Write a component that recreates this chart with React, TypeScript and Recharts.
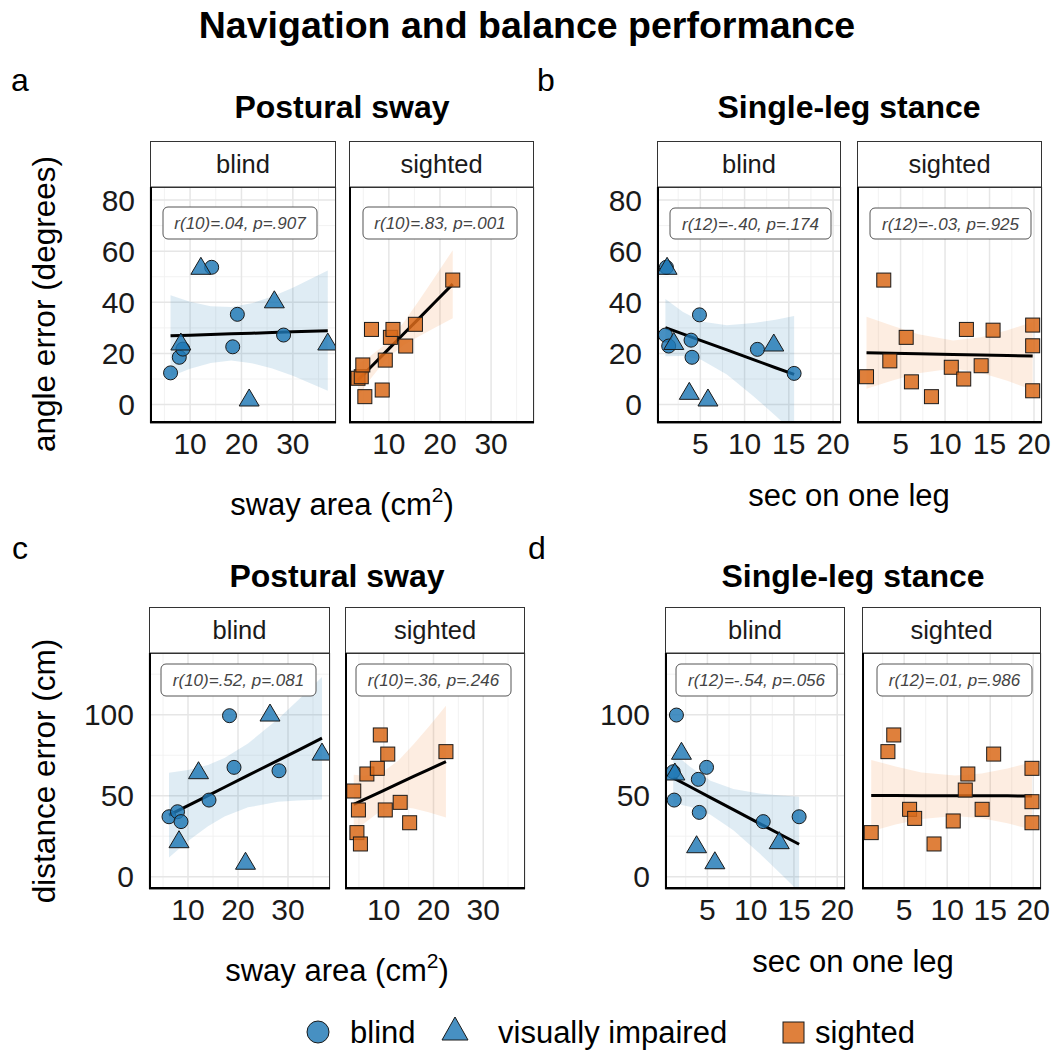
import React from "react";
import {
  Area,
  CartesianGrid,
  ComposedChart,
  Line,
  Scatter,
  XAxis,
  YAxis,
} from "recharts";

const FONT = '"Liberation Sans", Arial, Helvetica, sans-serif';
const BLUE = "#1F77B4";
const ORANGE = "#D96A1A";
const BAND_BLUE = "#1F77B4";
const BAND_ORANGE = "#F07D2A";

// sway area (cm2) per participant
const blindSwayX = [6.2, 7.9, 8.6, 14.2, 18.3, 19.2, 28.2];
const blindSwayAngle = [12.4, 18.5, 21.7, 53.7, 22.6, 35.3, 27.2];
const blindSwayDist = [37.0, 40.1, 34.0, 47.3, 99.4, 67.5, 65.4];
const viSwayX = [8.2, 12.1, 21.5, 26.4, 36.8];
const viSwayAngle = [23.7, 53.3, 1.8, 40.2, 23.7];
const viSwayDist = [21.6, 64.2, 8.3, 99.8, 75.7];
const sightedSwayX = [3.96, 4.6, 4.9, 5.3, 6.6, 8.7, 9.3, 10.3, 10.8, 13.3, 15.2, 22.5];
const sightedSwayAngle = [10.3, 10.9, 15.5, 3.1, 29.4, 5.7, 17.4, 26.3, 29.4, 22.9, 31.4, 48.7];
const sightedSwayDist = [52.9, 27.2, 41.2, 20.2, 63.4, 66.9, 87.5, 41.2, 75.7, 45.9, 33.3, 77.2];

// seconds on one leg per participant
const blindLegX = [1.05, 1.16, 1.42, 3.95, 4.06, 4.9, 11.45, 15.6];
const blindLegAngle = [27.2, 53.7, 22.9, 25.2, 18.5, 35.1, 21.6, 12.2];
const blindLegDist = [64.8, 47.3, 99.8, 60.1, 39.7, 67.5, 34.0, 37.0];
const viLegX = [1.24, 2.0, 3.75, 5.86, 13.3];
const viLegAngle = [53.3, 23.9, 4.4, 1.8, 23.3];
const viLegDist = [63.4, 76.2, 18.5, 8.6, 21.0];
const sightedLegX = [1.17, 3.11, 3.79, 5.63, 6.22, 8.47, 10.7, 12.1, 12.4, 14.06, 15.4, 19.85, 19.85, 19.85];
const sightedLegAngle = [10.9, 48.7, 17.1, 26.3, 8.9, 3.1, 14.6, 10.0, 29.4, 15.2, 29.1, 31.1, 23.0, 5.4];
const sightedLegDist = [27.2, 77.2, 87.5, 41.6, 36.0, 20.2, 34.4, 53.5, 63.4, 41.6, 75.7, 66.9, 46.3, 33.3];

// linear fits with 95% band
const aBlindFitX = [6.2, 10, 14, 18, 22, 26, 30, 36.8];
const aBlindFit = [26.9, 27.15, 27.4, 27.7, 27.9, 28.2, 28.5, 28.9];
const aBlindLo = [11.0, 14.05, 16.3, 17.2, 16.2, 14.1, 11.3, 5.4];
const aBlindHi = [42.8, 40.25, 38.5, 38.2, 39.6, 42.3, 45.7, 52.4];

const aSightedFitX = [3.96, 6, 9.6, 13, 16, 19, 22.5];
const aSightedFit = [9.6, 13.7, 21.0, 27.9, 33.9, 40.0, 47.1];
const aSightedLo = [3.2, 9.0, 18.0, 23.4, 26.8, 30.1, 33.8];
const aSightedHi = [16.0, 18.4, 24.0, 32.4, 41.0, 49.9, 60.4];

const bBlindFitX = [1.05, 3, 5.09, 8, 11, 13.5, 15.6];
const bBlindFit = [30.1, 27.65, 25.0, 21.4, 17.6, 14.4, 11.8];
const bBlindLo = [18.9, 19.0, 17.5, 11.8, 3.3, -4.4, -11.0];
const bBlindHi = [41.3, 36.3, 32.5, 31.0, 31.9, 33.2, 34.6];

const bSightedFitX = [1.17, 4, 7, 10.9, 14, 17, 19.85];
const bSightedFit = [20.3, 20.1, 19.9, 19.6, 19.4, 19.2, 19.0];
const bSightedLo = [6.2, 9.3, 12.3, 14.1, 12.5, 9.3, 5.7];
const bSightedHi = [34.4, 30.9, 27.5, 25.1, 26.3, 29.1, 32.3];

const cBlindFitX = [6.2, 10, 14, 17.3, 22, 28, 32, 36.8];
const cBlindFit = [38.0, 43.9, 50.1, 55.2, 62.5, 71.8, 78.0, 85.5];
const cBlindLo = [11.9, 22.0, 31.2, 37.2, 42.8, 46.2, 47.1, 47.7];
const cBlindHi = [64.1, 65.8, 69.0, 73.2, 82.2, 97.4, 108.9, 123.3];

const cSightedFitX = [3.96, 6, 9.6, 13, 16, 19, 22.5];
const cSightedFit = [44.7, 47.6, 52.7, 57.6, 61.9, 66.1, 71.1];
const cSightedLo = [26.4, 32.9, 41.2, 43.3, 42.1, 39.8, 36.6];
const cSightedHi = [63.0, 62.3, 64.2, 71.9, 81.7, 92.4, 105.6];

const dBlindFitX = [1.05, 3, 5.36, 8, 11, 13.5, 15.6];
const dBlindFit = [61.0, 55.5, 48.8, 41.4, 32.9, 25.9, 20.0];
const dBlindLo = [45.4, 43.2, 38.3, 28.7, 14.5, 1.7, -9.4];
const dBlindHi = [76.6, 67.8, 59.3, 54.1, 51.3, 50.1, 49.4];

const dSightedFitX = [1.17, 4, 7, 10.9, 14, 17, 19.85];
const dSightedFit = [50.1, 50.1, 50.0, 50.0, 49.9, 49.9, 49.8];
const dSightedLo = [28.1, 32.2, 35.6, 37.5, 36.1, 33.0, 29.0];
const dSightedHi = [72.1, 68.0, 64.4, 62.5, 63.7, 66.8, 70.6];

const SWAY_TICKS = [10, 20, 30];
const SWAY_MINOR = [5, 15, 25, 35];
const LEG_TICKS = [5, 10, 15, 20];
const LEG_MINOR = [2.5, 7.5, 12.5, 17.5];
const ANGLE_TICKS = [0, 20, 40, 60, 80];
const ANGLE_MINOR = [10, 30, 50, 70];
const DIST_TICKS = [0, 50, 100];
const DIST_MINOR = [25, 75, 125];

const STATS = {
  aB: "r(10)=.04, p=.907",
  aS: "r(10)=.83, p=.001",
  bB: "r(12)=-.40, p=.174",
  bS: "r(12)=-.03, p=.925",
  cB: "r(10)=.52, p=.081",
  cS: "r(10)=.36, p=.246",
  dB: "r(12)=-.54, p=.056",
  dS: "r(12)=.01, p=.986",
};

const zip = (xs: number[], ys: number[]) => xs.map((x, i) => ({ x, y: ys[i] }));
const bandRows = (xs: number[], fit: number[], lo: number[], hi: number[]) =>
  xs.map((x, i) => ({ x, fit: fit[i], band: [lo[i], hi[i]] }));

const STROKE = "#1a1a1a";

const Dot = (p: any) => (
  <circle cx={p.cx} cy={p.cy} r={7} fill={p.fill} fillOpacity={0.82} stroke={STROKE} strokeWidth={1} />
);
const Tri = (p: any) => (
  <path
    d={`M${p.cx},${p.cy - 11} L${p.cx + 10},${p.cy + 6} L${p.cx - 10},${p.cy + 6} Z`}
    fill={p.fill}
    fillOpacity={0.82}
    stroke={STROKE}
    strokeWidth={1}
  />
);
const Sq = (p: any) => (
  <rect x={p.cx - 7} y={p.cy - 7} width={14} height={14} fill={p.fill} fillOpacity={0.85} stroke={STROKE} strokeWidth={1} />
);

const ROW1 = { strip: 141, top: 187, h: 236 };
const ROW2 = { strip: 607, top: 653, h: 236 };
const SWAY_DOMAIN = [2.2, 38.4];
const LEG_DOMAIN = [0.1, 20.9];
const ANGLE_DOMAIN = [-7.2, 85.1];
const DIST_DOMAIN = [-7.6, 138.1];

const facets = [
  {
    id: "aB", label: "blind", left: 150, w: 186, row: ROW1, showY: true,
    xDomain: SWAY_DOMAIN, xTicks: SWAY_TICKS, xMinor: SWAY_MINOR,
    yDomain: ANGLE_DOMAIN, yTicks: ANGLE_TICKS, yMinor: ANGLE_MINOR, color: BAND_BLUE,
    band: bandRows(aBlindFitX, aBlindFit, aBlindLo, aBlindHi),
    series: [
      { pts: zip(blindSwayX, blindSwayAngle), fill: BLUE, shape: Dot },
      { pts: zip(viSwayX, viSwayAngle), fill: BLUE, shape: Tri },
    ],
    box: [163, 317, 207, 239],
  },
  {
    id: "aS", label: "sighted", left: 349, w: 185, row: ROW1, showY: false,
    xDomain: SWAY_DOMAIN, xTicks: SWAY_TICKS, xMinor: SWAY_MINOR,
    yDomain: ANGLE_DOMAIN, yTicks: ANGLE_TICKS, yMinor: ANGLE_MINOR, color: BAND_ORANGE,
    band: bandRows(aSightedFitX, aSightedFit, aSightedLo, aSightedHi),
    series: [{ pts: zip(sightedSwayX, sightedSwayAngle), fill: ORANGE, shape: Sq }],
    box: [363, 517, 207, 239],
  },
  {
    id: "bB", label: "blind", left: 657, w: 184, row: ROW1, showY: true,
    xDomain: LEG_DOMAIN, xTicks: LEG_TICKS, xMinor: LEG_MINOR,
    yDomain: ANGLE_DOMAIN, yTicks: ANGLE_TICKS, yMinor: ANGLE_MINOR, color: BAND_BLUE,
    band: bandRows(bBlindFitX, bBlindFit, bBlindLo, bBlindHi),
    series: [
      { pts: zip(blindLegX, blindLegAngle), fill: BLUE, shape: Dot },
      { pts: zip(viLegX, viLegAngle), fill: BLUE, shape: Tri },
    ],
    box: [670, 831, 208, 239],
  },
  {
    id: "bS", label: "sighted", left: 857, w: 185, row: ROW1, showY: false,
    xDomain: LEG_DOMAIN, xTicks: LEG_TICKS, xMinor: LEG_MINOR,
    yDomain: ANGLE_DOMAIN, yTicks: ANGLE_TICKS, yMinor: ANGLE_MINOR, color: BAND_ORANGE,
    band: bandRows(bSightedFitX, bSightedFit, bSightedLo, bSightedHi),
    series: [{ pts: zip(sightedLegX, sightedLegAngle), fill: ORANGE, shape: Sq }],
    box: [870, 1031, 208, 239],
  },
  {
    id: "cB", label: "blind", left: 149, w: 181, row: ROW2, showY: true,
    xDomain: SWAY_DOMAIN, xTicks: SWAY_TICKS, xMinor: SWAY_MINOR,
    yDomain: DIST_DOMAIN, yTicks: DIST_TICKS, yMinor: DIST_MINOR, color: BAND_BLUE,
    band: bandRows(cBlindFitX, cBlindFit, cBlindLo, cBlindHi),
    series: [
      { pts: zip(blindSwayX, blindSwayDist), fill: BLUE, shape: Dot },
      { pts: zip(viSwayX, viSwayDist), fill: BLUE, shape: Tri },
    ],
    box: [161, 316, 664, 696],
  },
  {
    id: "cS", label: "sighted", left: 345, w: 180, row: ROW2, showY: false,
    xDomain: SWAY_DOMAIN, xTicks: SWAY_TICKS, xMinor: SWAY_MINOR,
    yDomain: DIST_DOMAIN, yTicks: DIST_TICKS, yMinor: DIST_MINOR, color: BAND_ORANGE,
    band: bandRows(cSightedFitX, cSightedFit, cSightedLo, cSightedHi),
    series: [{ pts: zip(sightedSwayX, sightedSwayDist), fill: ORANGE, shape: Sq }],
    box: [356, 511, 664, 696],
  },
  {
    id: "dB", label: "blind", left: 665, w: 180, row: ROW2, showY: true,
    xDomain: LEG_DOMAIN, xTicks: LEG_TICKS, xMinor: LEG_MINOR,
    yDomain: DIST_DOMAIN, yTicks: DIST_TICKS, yMinor: DIST_MINOR, color: BAND_BLUE,
    band: bandRows(dBlindFitX, dBlindFit, dBlindLo, dBlindHi),
    series: [
      { pts: zip(blindLegX, blindLegDist), fill: BLUE, shape: Dot },
      { pts: zip(viLegX, viLegDist), fill: BLUE, shape: Tri },
    ],
    box: [676, 837, 664, 696],
  },
  {
    id: "dS", label: "sighted", left: 862, w: 179, row: ROW2, showY: false,
    xDomain: LEG_DOMAIN, xTicks: LEG_TICKS, xMinor: LEG_MINOR,
    yDomain: DIST_DOMAIN, yTicks: DIST_TICKS, yMinor: DIST_MINOR, color: BAND_ORANGE,
    band: bandRows(dSightedFitX, dSightedFit, dSightedLo, dSightedHi),
    series: [{ pts: zip(sightedLegX, sightedLegDist), fill: ORANGE, shape: Sq }],
    box: [877, 1032, 664, 696],
  },
];

const TICK = { fontSize: 30, fill: "#1a1a1a", fontFamily: FONT };

function Facet({ f }: { f: any }) {
  const yw = f.showY ? 80 : 0;
  const padR = 24;
  const padT = 24;
  const axisH = 50;
  const width = f.w + yw + padR;
  const height = f.row.h + axisH + padT;
  return (
    <div style={{ position: "absolute", left: f.left - yw, top: f.row.top - padT, width, height }}>
      <ComposedChart
        width={width}
        height={height}
        data={f.band}
        margin={{ top: padT, right: padR, bottom: 0, left: 0 }}
      >
        <CartesianGrid stroke="#F0F0F0" strokeWidth={0.9} horizontalValues={f.yMinor} verticalValues={f.xMinor} />
        <CartesianGrid stroke="#E6E6E6" strokeWidth={1.5} />
        <XAxis
          type="number"
          dataKey="x"
          domain={f.xDomain}
          ticks={f.xTicks}
          interval={0}
          allowDataOverflow
          axisLine={false}
          tickLine={false}
          tickSize={0}
          tickMargin={10}
          height={axisH}
          tick={TICK}
        />
        <YAxis
          type="number"
          domain={f.yDomain}
          ticks={f.yTicks}
          interval={0}
          allowDataOverflow
          axisLine={false}
          tickLine={false}
          tickSize={0}
          tickMargin={15}
          width={yw}
          tick={f.showY ? TICK : false}
        />
        <Area
          type="linear"
          dataKey="band"
          stroke="none"
          fill={f.color}
          fillOpacity={0.14}
          isAnimationActive={false}
        />
        {f.series.map((s: any, i: number) => (
          <Scatter
            key={i}
            data={s.pts}
            dataKey="y"
            fill={s.fill}
            shape={s.shape}
            isAnimationActive={false}
          />
        ))}
        <Line
          type="linear"
          dataKey="fit"
          stroke="#000"
          strokeWidth={3}
          dot={false}
          isAnimationActive={false}
        />
      </ComposedChart>
    </div>
  );
}

function Overlay() {
  const t = { fontFamily: FONT, fill: "#000" };
  return (
    <svg
      width={1053}
      height={1050}
      style={{ position: "absolute", left: 0, top: 0, pointerEvents: "none" }}
    >
      <text x={527} y={38} textAnchor="middle" fontSize={37.5} fontWeight="bold" {...t}>
        Navigation and balance performance
      </text>
      <text x={20} y={91} textAnchor="middle" fontSize={32} {...t}>a</text>
      <text x={546} y={91} textAnchor="middle" fontSize={32} {...t}>b</text>
      <text x={20} y={559} textAnchor="middle" fontSize={32} {...t}>c</text>
      <text x={537} y={559} textAnchor="middle" fontSize={32} {...t}>d</text>

      <text x={342} y={118} textAnchor="middle" fontSize={32} fontWeight="bold" {...t}>Postural sway</text>
      <text x={849} y={118} textAnchor="middle" fontSize={32} fontWeight="bold" {...t}>Single-leg stance</text>
      <text x={337} y={587} textAnchor="middle" fontSize={32} fontWeight="bold" {...t}>Postural sway</text>
      <text x={853} y={587} textAnchor="middle" fontSize={32} fontWeight="bold" {...t}>Single-leg stance</text>

      {facets.map((f) => {
        const r = f.row;
        const bottom = r.top + r.h;
        const [bx0, bx1, by0, by1] = f.box;
        return (
          <g key={f.id}>
            <rect x={f.left + 0.5} y={r.strip + 0.5} width={f.w - 1} height={r.top - r.strip} fill="#fff" stroke="#333" strokeWidth={1} />
            <text x={f.left + f.w / 2} y={(r.strip + r.top) / 2 + 9} textAnchor="middle" fontSize={25.5} fontFamily={FONT} fill="#1a1a1a">
              {f.label}
            </text>
            <rect x={f.left + 0.5} y={r.top} width={f.w - 1} height={r.h} fill="none" stroke="#333" strokeWidth={1} />
            <line x1={f.left + 1} y1={r.top} x2={f.left + 1} y2={bottom} stroke="#000" strokeWidth={2} />
            <line x1={f.left} y1={bottom - 1} x2={f.left + f.w} y2={bottom - 1} stroke="#000" strokeWidth={2} />
            <rect x={bx0} y={by0} width={bx1 - bx0} height={by1 - by0} rx={5} fill="#fff" stroke="#555" strokeWidth={1} />
            <text x={(bx0 + bx1) / 2} y={(by0 + by1) / 2 + 6} textAnchor="middle" fontSize={17} fontStyle="italic" fontFamily={FONT} fill="#444">
              {STATS[f.id as keyof typeof STATS]}
            </text>
          </g>
        );
      })}

      <text transform="translate(55,304) rotate(-90)" textAnchor="middle" fontSize={31.5} {...t}>angle error (degrees)</text>
      <text transform="translate(55,771) rotate(-90)" textAnchor="middle" fontSize={31.5} {...t}>distance error (cm)</text>

      <text x={342} y={515} textAnchor="middle" fontSize={31} {...t}>
        sway area (cm<tspan dy={-13} fontSize={21}>2</tspan><tspan dy={13}>)</tspan>
      </text>
      <text x={849} y={506} textAnchor="middle" fontSize={31} {...t}>sec on one leg</text>
      <text x={337} y={981} textAnchor="middle" fontSize={31} {...t}>
        sway area (cm<tspan dy={-13} fontSize={21}>2</tspan><tspan dy={13}>)</tspan>
      </text>
      <text x={853} y={972} textAnchor="middle" fontSize={31} {...t}>sec on one leg</text>

      <circle cx={318} cy={1032} r={11} fill={BLUE} fillOpacity={0.82} stroke={STROKE} strokeWidth={1} />
      <text x={350} y={1043} fontSize={31} {...t}>blind</text>
      <path d="M455,1017 L468,1040 L442,1040 Z" fill={BLUE} fillOpacity={0.82} stroke={STROKE} strokeWidth={1} />
      <text x={498} y={1043} fontSize={31} {...t}>visually impaired</text>
      <rect x={783} y={1022} width={21} height={21} fill={ORANGE} fillOpacity={0.85} stroke={STROKE} strokeWidth={1} />
      <text x={815} y={1043} fontSize={31} {...t}>sighted</text>
    </svg>
  );
}

export default function App() {
  return (
    <div
      style={{
        position: "absolute",
        left: 0,
        top: 0,
        width: 1053,
        height: 1050,
        background: "#fff",
        fontFamily: FONT,
      }}
    >
      {facets.map((f) => (
        <Facet key={f.id} f={f} />
      ))}
      <Overlay />
    </div>
  );
}
